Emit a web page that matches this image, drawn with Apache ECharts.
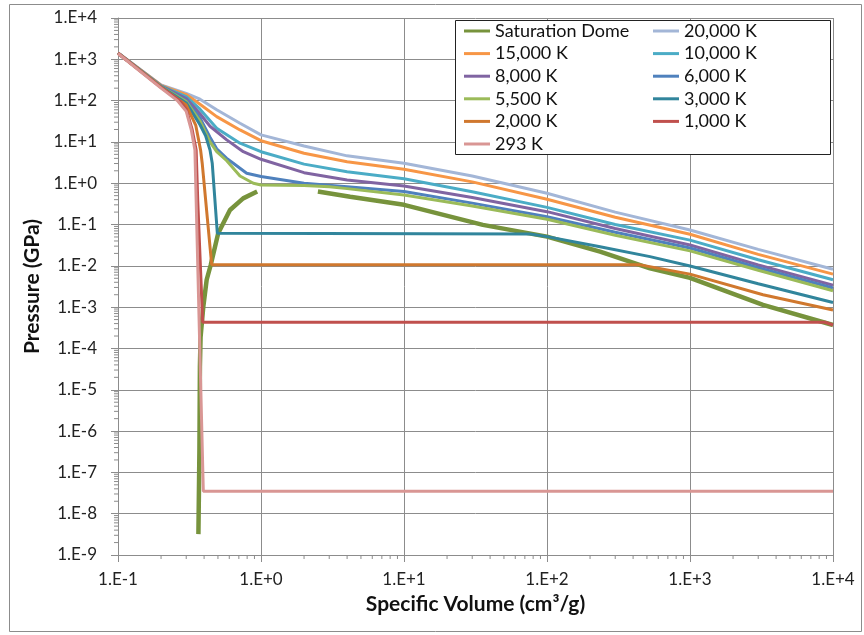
<!DOCTYPE html>
<html>
<head>
<meta charset="utf-8">
<script src="https://cdn.jsdelivr.net/npm/echarts@6/dist/echarts.min.js"></script>
<style>
  html, body { margin: 0; padding: 0; background: #fff; }
  #chart { width: 864px; height: 635px; }
</style>
</head>
<body>
<div id="chart"></div>
<script>
// Isotherms and saturation dome: [specific volume (cm3/g), pressure (GPa)]
const domeLiquid = [[0.365,3.2e-9],[0.371,3.5e-7],[0.374,3.6e-5],[0.378,1.9e-4],[0.395,1.03e-3],[0.417,4.6e-3],[0.445,0.0105],[0.502,0.0615],[0.607,0.225],[0.75,0.43],[0.94,0.63]];
const domeVapor = [[2.5,0.63],[4.2,0.47],[10,0.30],[35.6,0.098],[100,0.051],[235,0.022],[525,0.0087],[1000,0.0051],[3240,0.00113],[10000,0.00037]];

const t20000 = [[0.1,1450],[0.2,240],[0.3,150],[0.3745,108],[0.49,60],[0.713,28.4],[1,14.8],[2,8],[4,4.6],[10,3.05],[30,1.5],[100,0.57],[300,0.2],[1000,0.074],[3000,0.025],[10000,0.0083]];
const t15000 = [[0.1,1420],[0.2,235],[0.3,140],[0.3745,82],[0.49,41],[0.713,19.5],[1,10.7],[2,5.3],[4,3.3],[10,2.18],[30,1.08],[100,0.41],[300,0.15],[1000,0.058],[3000,0.019],[10000,0.0063]];
const t10000 = [[0.1,1400],[0.2,228],[0.3,125],[0.3745,62],[0.49,21.4],[0.713,9.3],[1,5.8],[2,2.9],[4,1.9],[10,1.29],[30,0.62],[100,0.26],[300,0.1],[1000,0.042],[3000,0.014],[10000,0.0046]];
const t8000 = [[0.1,1400],[0.2,225],[0.3,112],[0.3745,48],[0.44,24],[0.576,11.2],[0.752,5.8],[1,3.8],[2,1.8],[4,1.2],[10,0.86],[30,0.45],[100,0.205],[300,0.08],[1000,0.032],[3000,0.0105],[10000,0.0034]];
const t6000 = [[0.1,1400],[0.2,222],[0.3,100],[0.3745,38],[0.44,13],[0.49,6.8],[0.576,4.0],[0.64,3.05],[0.794,1.75],[1,1.45],[2,1.0],[4,0.82],[10,0.63],[30,0.33],[100,0.155],[300,0.065],[1000,0.027],[3000,0.009],[10000,0.0029]];
const t5500 = [[0.1,1400],[0.2,220],[0.3,95],[0.3745,32],[0.44,10],[0.49,5.8],[0.576,3.5],[0.713,1.5],[0.884,1.0],[1,0.91],[2,0.88],[3,0.82],[4,0.74],[10,0.52],[30,0.28],[100,0.134],[300,0.055],[1000,0.023],[3000,0.0078],[10000,0.0025]];
const t3000 = [[0.1,1400],[0.2,215],[0.3,88],[0.3745,26],[0.41,14],[0.44,6.4],[0.456,3.05],[0.495,0.0615],[0.5,0.059],[76,0.059],[100,0.051],[235,0.029],[525,0.0167],[1000,0.0099],[3000,0.0037],[10000,0.0013]];
const t2000 = [[0.1,1400],[0.2,212],[0.3,78],[0.35,25],[0.378,6.4],[0.388,3.05],[0.452,0.0107],[440,0.0107],[1000,0.0063],[3240,0.002],[10000,0.00085]];
const t1000 = [[0.1,1400],[0.2,208],[0.27,100],[0.3,62],[0.33,20],[0.352,6.4],[0.361,0.39],[0.391,0.00043],[8800,0.00043],[10000,0.00037]];
const t293 = [[0.1,1380],[0.2,200],[0.26,100],[0.3,55],[0.325,20],[0.345,6.4],[0.395,3.5e-8],[10000,3.5e-8]];

const seriesNames = ['Saturation Dome','20,000 K','15,000 K','10,000 K','8,000 K','6,000 K','5,500 K','3,000 K','2,000 K','1,000 K','293 K'];
const seriesColors = ['#77933C','#A3B6D7','#F79646','#4BACC6','#8064A2','#4F81BD','#9BBB59','#31859C','#D0782E','#C0504D','#D99694'];
const isotherms = [t20000,t15000,t10000,t8000,t6000,t5500,t3000,t2000,t1000,t293];

// legend columns
const legendLeftCol = ['Saturation Dome','15,000 K','8,000 K','5,500 K','2,000 K','293 K'];
const legendRightCol = ['20,000 K','10,000 K','6,000 K','3,000 K','1,000 K'];

// axis range (decades)
const xMinExp = -1, xMaxExp = 4;
const yMinExp = -9, yMaxExp = 4;

const minorX = [];
for (let k = xMinExp; k < xMaxExp; k++) for (let m = 2; m <= 9; m++) minorX.push([m * Math.pow(10, k), Math.pow(10, yMinExp)]);
const minorY = [];
for (let k = yMinExp; k < yMaxExp; k++) for (let m = 2; m <= 9; m++) minorY.push([Math.pow(10, xMinExp), m * Math.pow(10, k)]);

const FONT = 'Lato';
const gridColor = '#8C8C8C';

function expLabel(v) {
  const e = Math.round(Math.log10(v));
  return '1.E' + (e >= 0 ? '+' : '-') + Math.abs(e);
}

const series = [];
series.push({
  name: seriesNames[0], type: 'line', data: domeLiquid, symbol: 'none',
  lineStyle: { width: 4.5, color: seriesColors[0] }, itemStyle: { color: seriesColors[0] }, z: 2
});
series.push({
  name: seriesNames[0], type: 'line', data: domeVapor, symbol: 'none',
  lineStyle: { width: 4.5, color: seriesColors[0] }, itemStyle: { color: seriesColors[0] }, z: 2
});
isotherms.forEach((d, i) => {
  series.push({
    name: seriesNames[i + 1], type: 'line', data: d, symbol: 'none',
    lineStyle: { width: 3, color: seriesColors[i + 1] }, itemStyle: { color: seriesColors[i + 1] }, z: 2
  });
});
// minor log ticks along both axes
series.push({
  type: 'custom', data: minorX, clip: false, silent: true, z: 1,
  renderItem: (params, api) => {
    const p = api.coord([api.value(0), api.value(1)]);
    return { type: 'line', shape: { x1: p[0], y1: p[1], x2: p[0], y2: p[1] + 4 }, style: { stroke: gridColor, lineWidth: 1 } };
  }
});
series.push({
  type: 'custom', data: minorY, clip: false, silent: true, z: 1,
  renderItem: (params, api) => {
    const p = api.coord([api.value(0), api.value(1)]);
    return { type: 'line', shape: { x1: p[0] - 4, y1: p[1], x2: p[0], y2: p[1] }, style: { stroke: gridColor, lineWidth: 1 } };
  }
});

const legendCommon = {
  orient: 'vertical', top: 22, itemWidth: 26, itemHeight: 3, itemGap: 4.6, padding: 0,
  icon: 'path://M0,0 L26,0 L26,3 L0,3 Z',
  textStyle: { fontFamily: FONT, fontSize: 18, color: '#111', lineHeight: 18 },
  z: 10
};

const chart = echarts.init(document.getElementById('chart'), null, { renderer: 'canvas' });
chart.setOption({
  animation: false,
  backgroundColor: '#fff',
  textStyle: { fontFamily: FONT },
  grid: { left: 118, right: 31, top: 18, bottom: 80, containLabel: false },
  xAxis: {
    type: 'log', logBase: 10, min: Math.pow(10, xMinExp), max: Math.pow(10, xMaxExp), interval: 1,
    name: 'Specific Volume (cm³/g)', nameLocation: 'middle', nameGap: 39,
    nameTextStyle: { fontFamily: FONT, fontSize: 21, fontWeight: 'bold', color: '#111' },
    axisLine: { show: true, onZero: false, lineStyle: { color: gridColor, width: 1 } },
    axisTick: { show: true, inside: false, length: 7, lineStyle: { color: gridColor } },
    axisLabel: { formatter: expLabel, fontFamily: FONT, fontSize: 17, color: '#222', margin: 16 },
    splitLine: { show: true, lineStyle: { color: gridColor, width: 1 } }
  },
  yAxis: {
    type: 'log', logBase: 10, min: Math.pow(10, yMinExp), max: Math.pow(10, yMaxExp), interval: 1,
    name: 'Pressure (GPa)', nameLocation: 'middle', nameGap: 74, nameRotate: 90,
    nameTextStyle: { fontFamily: FONT, fontSize: 21, fontWeight: 'bold', color: '#111' },
    axisLine: { show: true, onZero: false, lineStyle: { color: gridColor, width: 1 } },
    axisTick: { show: true, inside: false, length: 7, lineStyle: { color: gridColor } },
    axisLabel: { formatter: expLabel, fontFamily: FONT, fontSize: 17, color: '#222', margin: 21 },
    splitLine: { show: true, lineStyle: { color: gridColor, width: 1 } }
  },
  legend: [
    Object.assign({}, legendCommon, { data: legendLeftCol, left: 464 }),
    Object.assign({}, legendCommon, { data: legendRightCol, left: 653 })
  ],
  graphic: [
    { type: 'rect', z: 5, silent: true, shape: { x: 455.5, y: 20.5, width: 375, height: 134 }, style: { fill: '#fff', stroke: '#222', lineWidth: 1 } },
    { type: 'rect', z: 0, silent: true, shape: { x: 9.5, y: 4.5, width: 852, height: 627 }, style: { fill: 'none', stroke: '#8C8C8C', lineWidth: 1 } }
  ],
  series: series
});
</script>
</body>
</html>
